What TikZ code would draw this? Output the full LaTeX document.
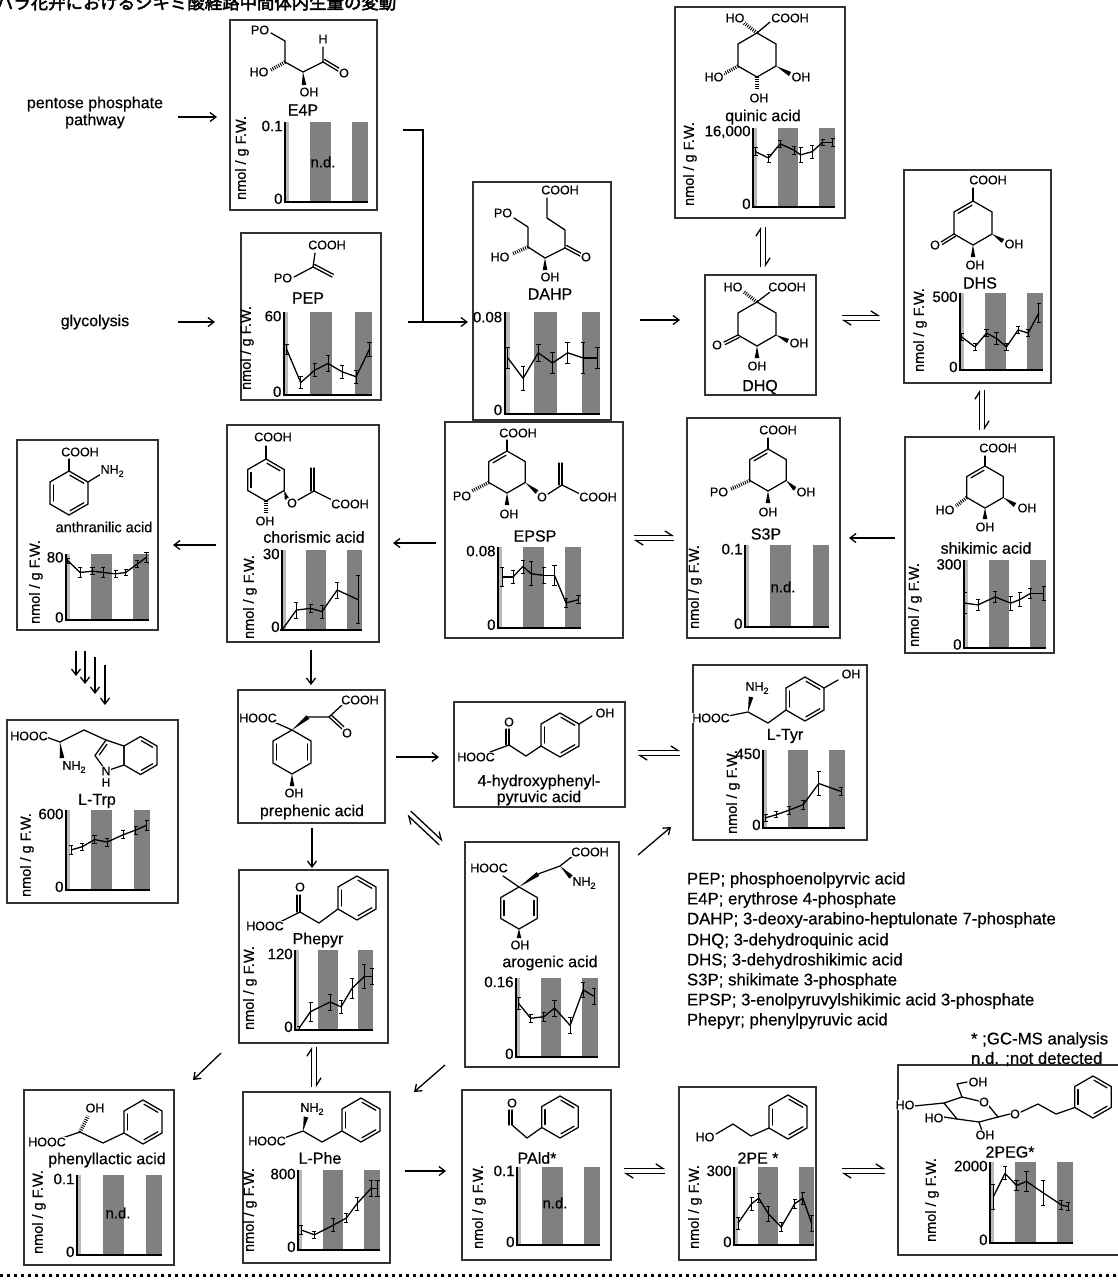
\documentclass[tikz,border=0pt]{standalone}
\usepackage{fontspec}
\setmainfont{Liberation Sans}[BoldFont={Liberation Sans},BoldFeatures={FakeBold=0.45}]
\newfontfamily\jpfont{Noto Sans CJK JP}[BoldFont={Noto Sans CJK JP},BoldFeatures={FakeBold=2.6}]
\usetikzlibrary{arrows.meta,calc}
\tikzset{
 every node/.style={inner sep=0pt, outer sep=0pt},
 cbox/.style={draw=black!80, line width=1.1pt},
 bond/.style={line width=1.25pt, line cap=round, line join=round},
 atom/.style={font=\fontsize{12.5}{13}\selectfont\bfseries, fill=white, inner sep=0.6pt},
 cname/.style={font=\fontsize{16}{16}\selectfont\bfseries},
 tick/.style={font=\fontsize{15}{15}\selectfont\bfseries},
 ylab/.style={font=\fontsize{14.5}{14.5}\selectfont\bfseries, rotate=90},
 axisline/.style={line width=1.7pt},
 barfill/.style={fill=black!50},
 stripfill/.style={fill=black!28},
 dline/.style={line width=1.3pt},
 errbar/.style={line width=0.8pt},
 rxn/.style={line width=1.3pt, -{Straight Barb[length=6pt,width=9pt,line width=1.3pt]}},
 harp/.style={line width=1.3pt, -{Straight Barb[harpoon,length=7pt,width=9pt,line width=1.3pt]}},
 legend/.style={font=\fontsize{16.8}{17}\selectfont\bfseries, anchor=west},
 side/.style={font=\fontsize{16}{17}\selectfont\bfseries},
}
\newcommand{\subt}[1]{\raisebox{-0.25em}{\fontsize{9}{9}\selectfont #1}}
\newcommand{\hexat}[4]{%
 \coordinate (#1T) at (#2,{#3-#4});
 \coordinate (#1UR) at ({#2+0.866*#4},{#3-0.5*#4});
 \coordinate (#1LR) at ({#2+0.866*#4},{#3+0.5*#4});
 \coordinate (#1B) at (#2,{#3+#4});
 \coordinate (#1LL) at ({#2-0.866*#4},{#3+0.5*#4});
 \coordinate (#1UL) at ({#2-0.866*#4},{#3-0.5*#4});
 \draw[bond] (#1T) -- (#1UR) -- (#1LR) -- (#1B) -- (#1LL) -- (#1UL) -- cycle;}
\newcommand{\rdb}[2]{\draw[bond,shorten <=3pt,shorten >=3pt] ($(#1)!3.2pt!-90:(#2)$) -- ($(#2)!3.2pt!90:(#1)$);}
\newcommand{\db}[3]{\draw[bond] #1 -- #2; \draw[bond] ($#1!#3!90:#2$) -- ($#2!#3!-90:#1$);}
\newcommand{\wb}[2]{\fill #1 -- ($#2!2.3pt!90:#1$) -- ($#2!2.3pt!-90:#1$) -- cycle;}
\newcommand{\hb}[2]{\draw[line width=3.6pt, dash pattern=on 0.9pt off 1.3pt] #1 -- #2;}
\newcommand{\eqm}[2]{%
 \draw[harp] ($#1!2.6pt!90:#2$) -- ($#2!2.6pt!-90:#1$);
 \draw[harp] ($#2!2.6pt!90:#1$) -- ($#1!2.6pt!-90:#2$);}
\newcommand{\cbx}[5]{\node[cbox,anchor=north west,minimum width={(#4-#2)*1pt},minimum height={(#5-#3)*1pt}] (#1) at (#2,#3) {};}
\newcommand{\chartbase}[5]{%
 \begin{scope}[shift={(#1,#2)},x=#3pt,y=#4pt]
  \fill[stripfill] (0,0) rectangle (0.05,1);
  \fill[barfill] (0.30,0) rectangle (0.55,1);
  \fill[barfill] (0.81,0) rectangle (1,1);
  \draw[axisline] (0,1) -- (0,0) -- (1,0);
  \node[tick,anchor=east] at (-0.03,0.95) {#5};
  \node[tick,anchor=east] at (-0.03,0.04) {0};
 \end{scope}}
\newcommand{\chartdata}[5]{%
 \begin{scope}[shift={(#1,#2)},x=#3pt,y=#4pt]
  \foreach \px/\py/\pe [count=\i, remember=\px as \lx (initially 0), remember=\py as \ly (initially 0)] in {#5} {
    \ifnum\i>1 \draw[dline] (\lx,\ly) -- (\px,\py);\fi
    \draw[errbar] (\px,{\py-\pe}) -- (\px,{\py+\pe});
    \draw[errbar] ({\px-0.025},{\py+\pe}) -- ({\px+0.025},{\py+\pe});
    \draw[errbar] ({\px-0.025},{\py-\pe}) -- ({\px+0.025},{\py-\pe});
  }
 \end{scope}}
\newcommand{\ylabel}[3]{\node[ylab] (#1) at (#2,#3) {nmol / g F.W.};}
\newcommand{\nd}[3]{\node[tick] (#1) at (#2,#3) {n.d.};}

\begin{document}
\begin{tikzpicture}[x=1pt,y=-1pt]
\useasboundingbox (0,0) rectangle (1118,1288);
\fill[white] (0,0) rectangle (1118,1288);

% title (clipped at the top edge)
\node[anchor=base west, font={\jpfont\fontsize{17.4}{18}\selectfont\bfseries}] (title) at (-4,9) {バラ花弁におけるシキミ酸経路中間体内生量の変動};

% ---------------- boxes ----------------
\cbx{e4p}{230}{20}{377}{210}
\cbx{pep}{241}{233}{381}{400}
\cbx{dahp}{473}{182}{611}{420}
\cbx{quin}{675}{7}{845}{218}
\cbx{dhq}{705}{275}{816}{395}
\cbx{dhs}{904}{170}{1051}{383}
\cbx{anth}{17}{440}{158}{630}
\cbx{chor}{227}{425}{379}{642}
\cbx{epsp}{445}{422}{623}{638}
\cbx{s3p}{687}{418}{840}{638}
\cbx{shik}{905}{437}{1054}{653}
\cbx{trp}{7}{720}{178}{903}
\cbx{preph}{238}{690}{385}{823}
\cbx{hpp}{454}{702}{625}{807}
\cbx{tyr}{693}{665}{867}{840}
\cbx{arog}{465}{842}{619}{1067}
\cbx{phepyr}{239}{870}{388}{1043}
\cbx{plac}{24}{1090}{174}{1265}
\cbx{phe}{243}{1092}{390}{1263}
\cbx{pald}{462}{1090}{611}{1260}
\cbx{pe}{679}{1087}{816}{1260}
\cbx{peg}{898}{1065}{1125}{1255}

% ---------------- charts ----------------
\chartbase{285}{202}{83}{80}{0.1}
\nd{nd1}{323}{162}
\ylabel{y1}{242}{158}
\chartbase{284}{395}{88}{83}{60}
\chartdata{284}{395}{88}{83}{0.03/0.55/0.06, 0.19/0.15/0.07, 0.35/0.3/0.08, 0.5/0.38/0.1, 0.66/0.28/0.08, 0.82/0.22/0.08, 0.97/0.55/0.08}
\ylabel{y2}{247}{348}
\chartbase{505}{414}{95}{102}{0.08}
\chartdata{505}{414}{95}{102}{0.03/0.55/0.1, 0.19/0.35/0.12, 0.35/0.6/0.08, 0.5/0.5/0.1, 0.66/0.6/0.1, 0.82/0.55/0.15, 0.97/0.55/0.1}
\chartbase{753}{207}{82}{79}{16,000}
\chartdata{753}{207}{82}{79}{0.03/0.70/0.05, 0.19/0.62/0.05, 0.33/0.80/0.04, 0.5/0.72/0.05, 0.58/0.66/0.1, 0.72/0.70/0.08, 0.85/0.82/0.04, 0.97/0.82/0.05}
\ylabel{y3}{690}{164}
\chartbase{960}{370}{83}{77}{500}
\chartdata{960}{370}{83}{77}{0.02/0.43/0.05, 0.18/0.30/0.04, 0.32/0.48/0.05, 0.44/0.41/0.08, 0.56/0.30/0.05, 0.70/0.52/0.05, 0.82/0.48/0.05, 0.95/0.74/0.12}
\ylabel{y4}{920}{330}
\chartbase{66}{620}{83}{66}{80}
\chartdata{66}{620}{83}{66}{0.02/0.9/0.04, 0.17/0.72/0.08, 0.32/0.74/0.05, 0.45/0.72/0.08, 0.6/0.7/0.05, 0.72/0.72/0.05, 0.86/0.85/0.06, 0.97/0.95/0.08}
\ylabel{y5}{36}{582}
\chartbase{282}{630}{80}{80}{30}
\chartdata{282}{630}{80}{80}{0.0/0.0/0.01, 0.18/0.25/0.1, 0.36/0.27/0.05, 0.5/0.23/0.08, 0.69/0.5/0.1, 0.95/0.38/0.3}
\ylabel{y6}{250}{597}
\chartbase{498}{628}{83}{81}{0.08}
\chartdata{498}{628}{83}{81}{0.05/0.63/0.12, 0.18/0.63/0.08, 0.3/0.76/0.08, 0.4/0.67/0.15, 0.55/0.65/0.1, 0.68/0.65/0.12, 0.82/0.31/0.06, 0.97/0.35/0.05}
\chartbase{745}{627}{84}{82}{0.1}
\nd{nd2}{783}{587}
\ylabel{y7}{695}{587}
\chartbase{964}{648}{82}{88}{300}
\chartdata{964}{648}{82}{88}{0.01/0.51/0.12, 0.17/0.49/0.06, 0.38/0.58/0.06, 0.57/0.51/0.08, 0.68/0.55/0.08, 0.81/0.62/0.06, 0.97/0.62/0.08}
\ylabel{y8}{915}{605}
\chartbase{66}{890}{84}{80}{600}
\chartdata{66}{890}{84}{80}{0.06/0.5/0.06, 0.19/0.54/0.04, 0.34/0.63/0.05, 0.49/0.6/0.05, 0.68/0.69/0.05, 0.83/0.75/0.05, 0.96/0.81/0.06}
\ylabel{y9}{27}{855}
\chartbase{763}{828}{82}{78}{450}
\chartdata{763}{828}{82}{78}{0.03/0.13/0.05, 0.16/0.17/0.04, 0.32/0.23/0.05, 0.49/0.3/0.06, 0.68/0.57/0.15, 0.95/0.47/0.05}
\ylabel{y10}{733}{792}
\chartbase{295}{1030}{78}{80}{120}
\chartdata{295}{1030}{78}{80}{0.05/0.02/0.02, 0.2/0.23/0.12, 0.45/0.35/0.1, 0.59/0.29/0.08, 0.73/0.52/0.12, 0.89/0.67/0.15, 0.99/0.67/0.1}
\ylabel{y11}{250}{988}
\chartbase{516}{1057}{82}{79}{0.16}
\chartdata{516}{1057}{82}{79}{0.03/0.68/0.08, 0.18/0.49/0.05, 0.34/0.51/0.06, 0.47/0.62/0.1, 0.66/0.4/0.1, 0.82/0.85/0.1, 0.95/0.77/0.1}
\chartbase{77}{1255}{85}{80}{0.1}
\nd{nd3}{118}{1213}
\ylabel{y12}{39}{1212}
\chartbase{298}{1250}{82}{80}{800}
\chartdata{298}{1250}{82}{80}{0.04/0.25/0.06, 0.2/0.19/0.04, 0.43/0.31/0.08, 0.59/0.4/0.06, 0.72/0.58/0.08, 0.89/0.77/0.1, 0.97/0.77/0.1}
\ylabel{y13}{250}{1210}
\chartbase{517}{1245}{83}{78}{0.1}
\nd{nd4}{555}{1203}
\ylabel{y14}{479}{1207}
\chartbase{734}{1245}{80}{78}{300}
\chartdata{734}{1245}{80}{78}{0.05/0.28/0.08, 0.22/0.53/0.08, 0.31/0.6/0.06, 0.43/0.4/0.1, 0.59/0.23/0.06, 0.76/0.53/0.06, 0.86/0.6/0.08, 0.97/0.28/0.1}
\ylabel{y15}{695}{1207}
\chartbase{990}{1243}{83}{81}{2000}
\chartdata{990}{1243}{83}{81}{0.04/0.57/0.15, 0.18/0.86/0.08, 0.32/0.71/0.06, 0.44/0.76/0.12, 0.64/0.62/0.15, 0.86/0.47/0.06, 0.94/0.45/0.05}
\ylabel{y16}{932}{1200}

% ---------------- structures ----------------
% E4P
\draw[bond] (271,33) -- (285,41) -- (285,62) -- (303,72) -- (323,62) -- (323,47);
\db{(323,62)}{(338,71)}{3pt}
\hb{(285,62)}{(271,70)}
\wb{(303,72)}{(304,85)}
\node[atom] at (260,30) {PO};
\node[atom] at (323,39) {H};
\node[atom] at (344,73) {O};
\node[atom] at (259,72) {HO};
\node[atom] at (309,92) {OH};
\node[cname] (le4p) at (303,110) {E4P};
% PEP
\draw[bond] (315,253) -- (313,267) -- (294,277);
\db{(313,267)}{(332,277)}{3pt}
\node[atom] at (327,245) {COOH};
\node[atom] at (283,278) {PO};
\node[cname] (lpep) at (308,298) {PEP};
% DAHP
\draw[bond] (547,198) -- (547,218) -- (565,230) -- (565,248) -- (545,258) -- (528,247) -- (528,227) -- (514,218);
\db{(565,248)}{(580,256)}{3pt}
\wb{(545,258)}{(545,270)}
\hb{(528,247)}{(512,254)}
\node[atom] at (560,190) {COOH};
\node[atom] at (586,257) {O};
\node[atom] at (550,277) {OH};
\node[atom] at (500,257) {HO};
\node[atom] at (503,213) {PO};
\node[cname] (ldahp) at (550,294) {DAHP};
% quinic acid
\hexat{q}{757}{55}{22}
\draw[bond] (qT) -- (770,22);
\hb{(qT)}{(744,23)}
\hb{(qLL)}{(724,74)}
\wb{(qLR)}{(790,74)}
\hb{(qB)}{(757,90)}
\node[atom] at (790,18) {COOH};
\node[atom] at (735,18) {HO};
\node[atom] at (714,77) {HO};
\node[atom] at (801,77) {OH};
\node[atom] at (759,98) {OH};
\node[cname] (lquin) at (763,117) {quinic acid};
% DHQ
\hexat{h}{757}{324}{22}
\draw[bond] (hT) -- (770,292);
\hb{(hT)}{(744,292)}
\db{(hLL)}{(724,342)}{2.8pt}
\wb{(hLR)}{(788,341)}
\wb{(hB)}{(757,358)}
\node[atom] at (787,287) {COOH};
\node[atom] at (733,287) {HO};
\node[atom] at (717,345) {O};
\node[atom] at (799,343) {OH};
\node[atom] at (757,366) {OH};
\node[cname] (ldhq) at (760,387) {DHQ};
% DHS
\hexat{s}{973}{223}{22}
\rdb{sUL}{sT}
\draw[bond] (sT) -- (973,188);
\db{(sLL)}{(941,242)}{2.8pt}
\wb{(sLR)}{(1003,241)}
\wb{(sB)}{(973,257)}
\node[atom] at (988,180) {COOH};
\node[atom] at (935,245) {O};
\node[atom] at (1014,244) {OH};
\node[atom] at (975,265) {OH};
\node[cname] (ldhs) at (980,283) {DHS};
% shikimic acid
\hexat{k}{985}{487}{21}
\rdb{kUL}{kT}
\draw[bond] (kT) -- (985,456);
\hb{(kLL)}{(956,506)}
\wb{(kLR)}{(1015,505)}
\wb{(kB)}{(985,519)}
\node[atom] at (998,448) {COOH};
\node[atom] at (945,510) {HO};
\node[atom] at (1027,508) {OH};
\node[atom] at (985,527) {OH};
\node[cname] (lshik) at (986,548) {shikimic acid};
% S3P
\hexat{t}{768}{470}{21}
\rdb{tUL}{tT}
\draw[bond] (tT) -- (768,438);
\hb{(tLL)}{(731,489)}
\wb{(tLR)}{(795,489)}
\wb{(tB)}{(768,503)}
\node[atom] at (778,430) {COOH};
\node[atom] at (719,492) {PO};
\node[atom] at (806,492) {OH};
\node[atom] at (768,512) {OH};
\node[cname] (ls3p) at (766,534) {S3P};
% EPSP
\hexat{p}{507}{472}{21}
\rdb{pUL}{pT}
\draw[bond] (pT) -- (507,440);
\hb{(pLL)}{(472,491)}
\wb{(pB)}{(507,505)}
\wb{(pLR)}{(537,492)}
\draw[bond] (548,494) -- (562,485) -- (580,494);
\db{(562,485)}{(562,463)}{3pt}
\node[atom] at (518,433) {COOH};
\node[atom] at (462,496) {PO};
\node[atom] at (509,514) {OH};
\node[atom] at (542,497) {O};
\node[atom] at (598,497) {COOH};
\node[cname] (lepsp) at (535,536) {EPSP};
% chorismic acid
\hexat{c}{266}{480}{21}
\rdb{cT}{cUR}
\rdb{cLL}{cUL}
\draw[bond] (cT) -- (266,446);
\wb{(cLR)}{(287,499)}
\draw[bond] (298,500) -- (314,491) -- (332,500);
\db{(314,491)}{(314,468)}{3pt}
\hb{(cB)}{(266,514)}
\node[atom] at (273,437) {COOH};
\node[atom] at (292,503) {O};
\node[atom] at (350,504) {COOH};
\node[atom] at (265,521) {OH};
\node[cname] (lchor) at (314,537) {chorismic acid};
% anthranilic acid
\hexat{a}{69}{493}{22}
\rdb{aT}{aUR}
\rdb{aLR}{aB}
\rdb{aLL}{aUL}
\draw[bond] (aT) -- (69,459);
\draw[bond] (aUR) -- (101,474);
\node[atom] at (80,452) {COOH};
\node[atom,anchor=west] at (100,471) {NH\subt{2}};
\node[cname,font=\fontsize{14.5}{15}\selectfont\bfseries] (lanth) at (104,527) {anthranilic acid};
% L-Trp
\coordinate (i3) at (106,740);
\coordinate (i3a) at (124,746);
\coordinate (i7a) at (124,765);
\coordinate (i1) at (106,771);
\coordinate (i2) at (95,755.5);
\draw[bond] (i3) -- (i3a) -- (i7a) -- (i1) -- (i2) -- cycle;
\rdb{i2}{i3}
\hexat{w}{140.5}{755.5}{19}
\rdb{wT}{wUR}
\rdb{wLR}{wB}
\draw[bond] (46,737) -- (60,742) -- (84,730) -- (i3);
\wb{(60,742)}{(62,758)}
\node[atom] at (29,736) {HOOC};
\node[atom] at (74,767) {NH\subt{2}};
\node[atom] at (106,771) {N};
\node[atom,font=\fontsize{12}{12}\selectfont\bfseries] at (106,782.5) {H};
\node[cname] (ltrp) at (97,801) {L-Trp};
% prephenic acid
\hexat{r}{292}{752}{22}
\rdb{rUR}{rLR}
\rdb{rLL}{rUL}
\draw[bond] (rT) -- (274,722);
\wb{(rT)}{(308,717)}
\draw[bond] (308,717) -- (329,717) -- (342,705);
\db{(329,717)}{(342,729)}{3pt}
\wb{(rB)}{(292,786)}
\node[atom] at (258,718) {HOOC};
\node[atom] at (347,733) {O};
\node[atom] at (360,700) {COOH};
\node[atom] at (294,793) {OH};
\node[cname] (lpreph) at (312,812) {prephenic acid};
% 4-hydroxyphenylpyruvic acid
\hexat{y}{560}{735}{22}
\rdb{yT}{yUR}
\rdb{yLR}{yB}
\rdb{yLL}{yUL}
\draw[bond] (490,752) -- (509,745) -- (526,756) -- (yLL);
\db{(509,745)}{(509,729)}{3pt}
\draw[bond] (yUR) -- (592,716);
\node[atom] at (509,722) {O};
\node[atom] at (476,757) {HOOC};
\node[atom] at (605,713) {OH};
\node[cname] (lhpp) at (539,782) {4-hydroxyphenyl-};
\node[cname] (lhpp2) at (539,798) {pyruvic acid};
% L-Tyr
\hexat{ty}{805}{699}{22}
\rdb{tyT}{tyUR}
\rdb{tyLR}{tyB}
\rdb{tyLL}{tyUL}
\draw[bond] (728,716) -- (748,712) -- (768,723) -- (tyLL);
\wb{(748,712)}{(751,697)}
\draw[bond] (tyUR) -- (838,680);
\node[atom] at (711,718) {HOOC};
\node[atom] at (757,688) {NH\subt{2}};
\node[atom] at (851,674) {OH};
\node[cname] (ltyr) at (785,736) {L-Tyr};
% arogenic acid
\hexat{g}{519}{908}{21}
\rdb{gUR}{gLR}
\rdb{gLL}{gUL}
\draw[bond] (gT) -- (503,876);
\wb{(gT)}{(538,874)}
\draw[bond] (538,874) -- (560,866) -- (574,855);
\wb{(560,866)}{(571,877)}
\wb{(gB)}{(519,938)}
\node[atom] at (489,868) {HOOC};
\node[atom] at (590,852) {COOH};
\node[atom] at (584,883) {NH\subt{2}};
\node[atom] at (520,945) {OH};
\node[cname] (larog) at (550,963) {arogenic acid};
% Phepyr
\hexat{f}{357}{898}{22}
\rdb{fT}{fUR}
\rdb{fLR}{fB}
\rdb{fLL}{fUL}
\draw[bond] (280,922) -- (300,912) -- (319,923) -- (fLL);
\db{(300,912)}{(300,895)}{3pt}
\node[atom] at (300,887) {O};
\node[atom] at (265,926) {HOOC};
\node[cname] (lphepyr) at (318,940) {Phepyr};
% phenyllactic acid
\hexat{l}{143}{1122}{22}
\rdb{lT}{lUR}
\rdb{lLR}{lB}
\rdb{lLL}{lUL}
\draw[bond] (62,1138) -- (80,1132) -- (103,1143) -- (lLL);
\hb{(80,1132)}{(88,1116)}
\node[atom] at (95,1108) {OH};
\node[atom] at (47,1142) {HOOC};
\node[cname] (lplac) at (107,1160) {phenyllactic acid};
% L-Phe
\hexat{e}{361}{1120}{22}
\rdb{eT}{eUR}
\rdb{eLR}{eB}
\rdb{eLL}{eUL}
\draw[bond] (284,1138) -- (303,1131) -- (322,1142) -- (eLL);
\wb{(303,1131)}{(306,1117)}
\node[atom] at (312,1109) {NH\subt{2}};
\node[atom] at (267,1141) {HOOC};
\node[cname] (lphe) at (320,1158) {L-Phe};
% PAld
\hexat{d}{560}{1117}{21}
\rdb{dT}{dUR}
\rdb{dLR}{dB}
\rdb{dLL}{dUL}
\draw[bond] (512,1125) -- (527,1138) -- (dLL);
\db{(512,1125)}{(512,1110)}{3pt}
\node[atom] at (512,1103) {O};
\node[cname] (lpald) at (537,1158) {PAld*};
% 2PE
\hexat{o}{788}{1117}{22}
\rdb{oT}{oUR}
\rdb{oLR}{oB}
\rdb{oLL}{oUL}
\draw[bond] (716,1134) -- (733,1124) -- (751,1136) -- (oLL);
\node[atom] at (705,1137) {HO};
\node[cname] (lpe) at (758,1158) {2PE *};
% 2PEG
\hexat{b}{1093}{1097}{21}
\rdb{bT}{bUR}
\rdb{bLR}{bB}
\rdb{bLL}{bUL}
\draw[bond] (979,1101) -- (962,1097) -- (944,1103) -- (957,1119) -- (979,1122) -- (998,1117) -- (989,1106);
\draw[bond] (962,1097) -- (957,1084) -- (967,1082);
\draw[bond] (944,1103) -- (914,1106);
\draw[bond] (957,1119) -- (944,1117);
\draw[bond] (979,1122) -- (982,1131);
\draw[bond] (998,1117) -- (1010,1114);
\draw[bond] (1021,1112) -- (1038,1104) -- (1056,1114) -- (bLL);
\node[atom] at (984,1102) {O};
\node[atom] at (978,1082) {OH};
\node[atom] at (905,1105) {HO};
\node[atom] at (934,1118) {HO};
\node[atom] at (985,1135) {OH};
\node[atom] at (1015,1114) {O};
\node[cname] (lpeg) at (1010,1152) {2PEG*};

% ---------------- side texts and legend ----------------
\node[side] (ppp) at (95,104) {pentose phosphate};
\node[side] (ppp2) at (95,121) {pathway};
\node[side] (gly) at (95,322) {glycolysis};
\node[legend] (lg1) at (687,880) {PEP; phosphoenolpyrvic acid};
\node[legend] (lg2) at (687,900) {E4P; erythrose 4-phosphate};
\node[legend] (lg3) at (687,920) {DAHP; 3-deoxy-arabino-heptulonate 7-phosphate};
\node[legend] (lg4) at (687,941) {DHQ; 3-dehydroquinic acid};
\node[legend] (lg5) at (687,961) {DHS; 3-dehydroshikimic acid};
\node[legend] (lg6) at (687,981) {S3P; shikimate 3-phosphate};
\node[legend] (lg7) at (687,1001) {EPSP; 3-enolpyruvylshikimic acid 3-phosphate};
\node[legend] (lg8) at (687,1021) {Phepyr; phenylpyruvic acid};
\node[legend] (lg9) at (971,1040) {* ;GC-MS analysis};
\node[legend] (lg10) at (971,1059) {n.d. ;not detected};

% ---------------- reaction arrows ----------------
\coordinate (a1s) at (178,117); \coordinate (a1e) at (217,117);
\coordinate (a2s) at (178,322); \coordinate (a2e) at (215,322);
\coordinate (brk1) at (403,130); \coordinate (brk2) at (423,322);
\coordinate (a3s) at (408,322); \coordinate (a3e) at (468,322);
\coordinate (a4s) at (640,320); \coordinate (a4e) at (680,320);
\coordinate (q1) at (763,227); \coordinate (q2) at (763,267);
\coordinate (hs1) at (842,318); \coordinate (hs2) at (880,318);
\coordinate (sk1) at (982,390); \coordinate (sk2) at (982,430);
\coordinate (a5s) at (895,538); \coordinate (a5e) at (849,538);
\coordinate (es1) at (634,538); \coordinate (es2) at (674,538);
\coordinate (a6s) at (436,543); \coordinate (a6e) at (393,543);
\coordinate (a7s) at (216,545); \coordinate (a7e) at (173,545);
\coordinate (a8s) at (311,650); \coordinate (a8e) at (311,685);
\coordinate (a9s) at (396,757); \coordinate (a9e) at (439,757);
\coordinate (ht1) at (638,753); \coordinate (ht2) at (680,753);
\coordinate (pa1) at (409,813); \coordinate (pa2) at (441,843);
\coordinate (a10s) at (638,855); \coordinate (a10e) at (671,827);
\coordinate (a11s) at (312,828); \coordinate (a11e) at (312,868);
\coordinate (a12s) at (221,1053); \coordinate (a12e) at (193,1080);
\coordinate (pf1) at (314,1047); \coordinate (pf2) at (314,1087);
\coordinate (a13s) at (445,1065); \coordinate (a13e) at (414,1092);
\coordinate (a14s) at (405,1171); \coordinate (a14e) at (446,1171);
\coordinate (ap1) at (624,1171); \coordinate (ap2) at (665,1171);
\coordinate (pg1) at (842,1171); \coordinate (pg2) at (885,1171);

\draw[rxn] (a1s) -- (a1e);
\draw[rxn] (a2s) -- (a2e);
\draw[line width=1.4pt] (brk1) -| (brk2);
\draw[rxn] (a3s) -- (a3e);
\draw[rxn] (a4s) -- (a4e);
\eqm{(q1)}{(q2)}
\eqm{(hs1)}{(hs2)}
\eqm{(sk1)}{(sk2)}
\draw[rxn] (a5s) -- (a5e);
\eqm{(es1)}{(es2)}
\draw[rxn] (a6s) -- (a6e);
\draw[rxn] (a7s) -- (a7e);
\draw[rxn] (a8s) -- (a8e);
\draw[rxn] (a9s) -- (a9e);
\eqm{(ht1)}{(ht2)}
\eqm{(pa1)}{(pa2)}
\draw[rxn] (a10s) -- (a10e);
\draw[rxn] (a11s) -- (a11e);
\draw[rxn] (a12s) -- (a12e);
\eqm{(pf1)}{(pf2)}
\draw[rxn] (a13s) -- (a13e);
\draw[rxn] (a14s) -- (a14e);
\eqm{(ap1)}{(ap2)}
\eqm{(pg1)}{(pg2)}
% multistep arrows anthranilate -> Trp
\coordinate (m1s) at (76,651); \coordinate (m1e) at (76,676);
\coordinate (m2s) at (85,651); \coordinate (m2e) at (85,684);
\coordinate (m3s) at (95,657); \coordinate (m3e) at (95,694);
\coordinate (m4s) at (105,665); \coordinate (m4e) at (105,705);
\draw[rxn] (m1s) -- (m1e);
\draw[rxn] (m2s) -- (m2e);
\draw[rxn] (m3s) -- (m3e);
\draw[rxn] (m4s) -- (m4e);

% bottom dotted rule
\coordinate (dl1) at (0,1275); \coordinate (dl2) at (1118,1275);
\draw[line width=3pt, dash pattern=on 2.6pt off 4.4pt] (dl1) -- (dl2);
\end{tikzpicture}
\end{document}
